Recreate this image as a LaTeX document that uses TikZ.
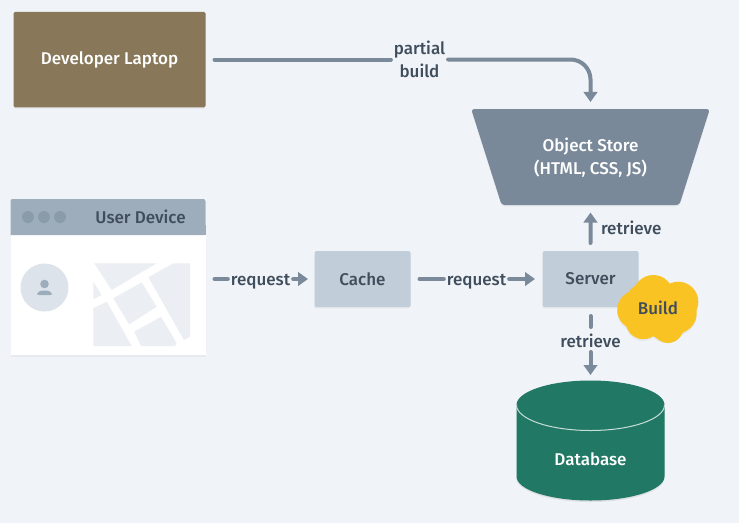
\documentclass[tikz,border=0pt]{standalone}
\usepackage{fontspec}
\setmainfont{Fira Sans Medium}
\usetikzlibrary{arrows.meta,shapes.geometric,shapes.misc,shadows}
\definecolor{bg}{HTML}{F0F4F8}
\definecolor{line}{HTML}{7A8A9A}
\definecolor{ink}{HTML}{3F4D5C}
\definecolor{lap}{HTML}{887859}
\definecolor{store}{HTML}{7A8999}
\definecolor{box}{HTML}{C1CDD8}
\definecolor{head}{HTML}{9DADBB}
\definecolor{dots}{HTML}{8A9BAA}
\definecolor{pale}{HTML}{EBEFF4}
\definecolor{avatar}{HTML}{DDE3EA}
\definecolor{person}{HTML}{9DADBB}
\definecolor{cloud}{HTML}{F9C423}
\definecolor{db}{HTML}{217965}
\tikzset{
 x=1pt,y=-1pt,
 every node/.style={font=\fontsize{17}{23}\selectfont, outer sep=0pt},
 soft/.style={drop shadow={opacity=.08,shadow xshift=0pt,shadow yshift=-1.5pt}},
 boxnode/.style={rectangle,rounded corners=1.5pt,fill=box,text=ink,soft,minimum width=96pt,minimum height=56pt},
 lbl/.style={text=ink,inner sep=2pt,text height=14pt,text depth=2pt},
 wire/.style={draw=line,line width=4pt,line cap=round},
 arrowline/.style={wire,-{Triangle[width=13.5pt,length=10pt]}},
}
\begin{document}
\begin{tikzpicture}
\useasboundingbox[fill=bg] (0,0) rectangle (739,523);
% laptop
\node[rectangle,rounded corners=1.5pt,fill=lap,text=white,soft,minimum width=192pt,minimum height=95.5pt] (laptop) at (109.5,59.5) {Developer Laptop};
% object store
\node[trapezium,shape border rotate=180,trapezium stretches=true,trapezium left angle=65,trapezium right angle=65,rounded corners=3pt,fill=store,text=white,soft,minimum width=239pt,minimum height=96pt,align=center,inner sep=0pt] (objstore) at (590.5,157) {\rule{0pt}{15.5pt}Object Store\\(HTML, CSS, JS)};
% user device
\node[rectangle,fill=white,soft,minimum width=195pt,minimum height=156pt] (device) at (108,277) {};
\fill[head,rounded corners=2pt] (10.5,235) -- (10.5,199) -- (205.5,199) -- (205.5,235) [sharp corners] -- cycle;
\fill[head] (10.5,225) rectangle (205.5,235);
\foreach \px in {28,44,60}{\fill[dots] (\px,217) circle (6pt);}
\node[text=ink,inner sep=0pt] (devtitle) at (140.5,217) {User Device};
\fill[avatar] (44.5,287.5) circle (24pt);
\fill[person] (44.5,284) circle (4.3pt);
\fill[person,rounded corners=2pt] (37,295) -- (37,293) -- (40,290.5) -- (49,290.5) -- (52,293) -- (52,295) -- cycle;
% map
\begin{scope}[pale]
\fill (94.3,263.3) -- (156.7,263.3) -- (111.7,290) -- cycle;
\fill (93.3,281.7) -- (101.7,295) -- (93.3,299.3) -- cycle;
\fill (93.3,308.3) -- (106.7,301.7) -- (131.7,346) -- (93.3,346) -- cycle;
\fill (113.3,298.3) -- (141.7,282.3) -- (156.7,306.7) -- (129.3,324.3) -- cycle;
\fill (134.3,331.7) -- (161,316.7) -- (176.7,343.3) -- (175,346) -- (141,346) -- cycle;
\fill (148.3,277.3) -- (173.3,263.3) -- (190,263.3) -- (190,336.7) -- (184,340) -- cycle;
\end{scope}
% cache and server
\node[boxnode] (cache) at (362.5,279) {Cache};
\node[boxnode] (server) at (590.5,279) {Server};
% database
\path[fill=black,opacity=.08] (516.5,406.5) -- (516.5,478) arc[start angle=180,end angle=360,x radius=74pt,y radius=24pt] -- (664.5,406.5) -- cycle;
\path[fill=db] (516.5,405) arc[start angle=180,end angle=0,x radius=74pt,y radius=24.5pt] -- (664.5,476.5) arc[start angle=0,end angle=-180,x radius=74pt,y radius=24pt] -- cycle;
\draw[white!75!db,line width=1pt] (516.5,405) arc[start angle=180,end angle=360,x radius=74pt,y radius=25.5pt];
\node[text=white,inner sep=0pt] (database) at (590.5,459.5) {Database};
% build cloud
\begin{scope}
\foreach \cx/\cy/\cr in {653.3/297/20,678.3/303.7/20,676.7/315.3/20,666.7/323.7/19.5,643.3/323.7/17.5,636.7/312/19.5}{\fill[black,opacity=.04] (\cx,\cy) circle (\cr pt);}
\foreach \cx/\cy/\cr in {653.3/295/20,678.3/301.7/20,676.7/313.3/20,666.7/321.7/19.5,643.3/321.7/17.5,636.7/310/19.5,658/308/22,645/302/19,668/328/15}{\fill[cloud] (\cx,\cy) circle (\cr pt);}
\end{scope}
\node[text=ink,inner sep=0pt] (build) at (658,308) {Build};
% labels
\node[lbl,align=center,text height=,text depth=] (partial) at (419.5,59.5) {partial\\build};
\node[lbl] (req1) at (260.5,279) {request};
\node[lbl] (req2) at (476.5,279) {request};
\node[lbl,anchor=west] (ret1) at (599,228.5) {retrieve};
\node[lbl] (ret2) at (590.5,341) {retrieve};
% connectors
\draw[wire,shorten <=9pt,shorten >=1pt] (laptop.east) -- (partial.west);
\draw[arrowline,rounded corners=20pt,shorten <=1pt,shorten >=7pt] (partial.east) -| (objstore.north);
\draw[wire,shorten <=9pt,shorten >=1pt] (device.east |- req1.west) -- (req1.west);
\draw[arrowline,shorten <=1pt,shorten >=6.5pt] (req1.east) -- (cache.west);
\draw[wire,shorten <=9pt,shorten >=1pt] (cache.east) -- (req2.west);
\draw[arrowline,shorten <=1pt,shorten >=7.5pt] (req2.east) -- (server.west);
\draw[arrowline,shorten <=8pt,shorten >=7.5pt] (server.north) -- (objstore.south);
\draw[wire,shorten <=9pt,shorten >=4pt] (server.south) -- (ret2.north);
\draw[arrowline,shorten <=1pt,shorten >=6.5pt] (ret2.south) -- (ret2.south |- {0,381.5});
\end{tikzpicture}
\end{document}
